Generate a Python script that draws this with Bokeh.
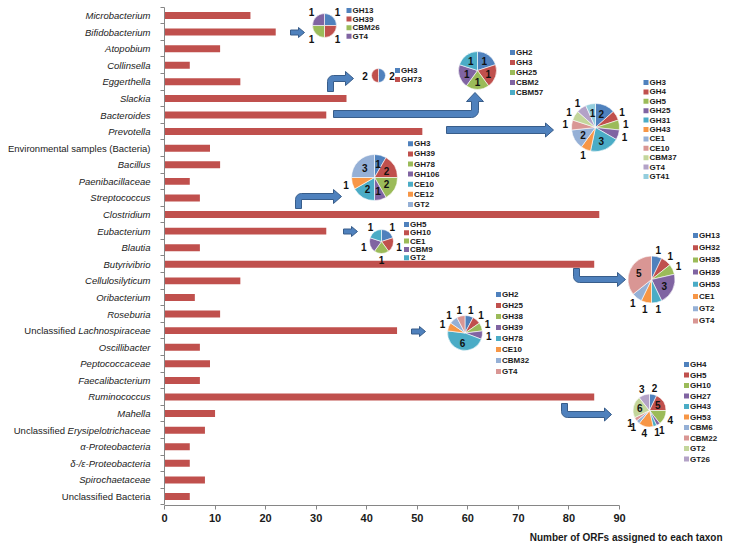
import math
from bokeh.plotting import figure
from bokeh.models import Range1d, FixedTicker, Title, ColumnDataSource
from bokeh.core.properties import value
from bokeh.embed import file_html
from bokeh.resources import INLINE

# ---------------- data ----------------
taxa = ["Microbacterium", "Bifidobacterium", "Atopobium", "Collinsella", "Eggerthella",
        "Slackia", "Bacteroides", "Prevotella", "Environmental samples (Bacteria)", "Bacillus",
        "Paenibacillaceae", "Streptococcus", "Clostridium", "Eubacterium", "Blautia",
        "Butyrivibrio", "Cellulosilyticum", "Oribacterium", "Roseburia",
        "Unclassified Lachnospiraceae", "Oscillibacter", "Peptococcaceae", "Faecalibacterium",
        "Ruminococcus", "Mahella", "Unclassified Erysipelotrichaceae", "α-Proteobacteria",
        "δ-/ε-Proteobacteria", "Spirochaetaceae", "Unclassified Bacteria"]
italic_part = ["Microbacterium", "Bifidobacterium", "Atopobium", "Collinsella", "Eggerthella",
               "Slackia", "Bacteroides", "Prevotella", "", "Bacillus",
               "Paenibacillaceae", "Streptococcus", "Clostridium", "Eubacterium", "Blautia",
               "Butyrivibrio", "Cellulosilyticum", "Oribacterium", "Roseburia",
               "Lachnospiraceae", "Oscillibacter", "Peptococcaceae", "Faecalibacterium",
               "Ruminococcus", "Mahella", "Erysipelotrichaceae", "α-Proteobacteria",
               "δ-/ε-Proteobacteria", "Spirochaetaceae", ""]
orfs = [17, 22, 11, 5, 15, 36, 32, 51, 9, 11, 5, 7, 86, 32, 7, 85, 15, 6, 11, 46,
        7, 9, 7, 85, 10, 8, 5, 5, 8, 5]
x_ticks = [0, 10, 20, 30, 40, 50, 60, 70, 80, 90]
x_title = "Number of ORFs assigned to each taxon"

bifido_cazy = ["GH13", "GH39", "CBM26", "GT4"]
bifido_n = [1, 1, 1, 1]
slackia_cazy = ["GH3", "GH73"]
slackia_n = [2, 2]
bactero_cazy = ["GH2", "GH3", "GH25", "CBM2", "CBM57"]
bactero_n = [1, 1, 1, 1, 1]
prevo_cazy = ["GH3", "GH4", "GH5", "GH25", "GH31", "GH43", "CE1", "CE10", "CBM37", "GT4", "GT41"]
prevo_n = [2, 1, 1, 1, 3, 1, 2, 1, 1, 1, 1]
strepto_cazy = ["GH3", "GH39", "GH78", "GH106", "CE10", "CE12", "GT2"]
strepto_n = [1, 2, 2, 1, 2, 1, 3]
eubac_cazy = ["GH5", "GH10", "CE1", "CBM9", "GT2"]
eubac_n = [1, 1, 1, 1, 1]
butyri_cazy = ["GH13", "GH32", "GH35", "GH39", "GH53", "CE1", "GT2", "GT4"]
butyri_n = [1, 1, 1, 3, 1, 1, 1, 5]
lachno_cazy = ["GH2", "GH25", "GH38", "GH39", "GH78", "CE10", "CBM32", "GT4"]
lachno_n = [1, 1, 1, 1, 6, 1, 1, 1]
rumino_cazy = ["GH4", "GH5", "GH10", "GH27", "GH43", "GH53", "CBM6", "CBM22", "GT2", "GT26"]
rumino_n = [2, 5, 4, 1, 1, 4, 1, 1, 6, 3]

palette = ["#4F81BD", "#C0504D", "#9BBB59", "#8064A2", "#4BACC6", "#F79646",
           "#95B0D6", "#D99694", "#C3D69B", "#B3A2C7", "#93CDDD"]

# ---------------- geometry (canvas pixels -> data) ----------------
N = len(taxa)
SX = 455.0 / 90.0          # px per ORF
SY = 16.586                # px per row
W, FRAME_H = 731, 505
FX0 = 164.0                # canvas x of ORF = 0
YTOP = N - 0.5 + 15.0 / SY  # data y at canvas top (first row centre at y=15)


def xd(px):
    return (px - FX0) / SX


def yd(py):
    return YTOP - py / SY


ypos = [N - 0.5 - i for i in range(N)]

p = figure(frame_width=W, frame_height=FRAME_H,
           min_border_left=0, min_border_right=0, min_border_top=0, min_border_bottom=47,
           x_range=Range1d(xd(0), xd(W)), y_range=Range1d(yd(FRAME_H), yd(0)),
           output_backend="svg", toolbar_location=None, title=None)
p.outline_line_color = None
p.grid.visible = False
p.background_fill_color = "white"
p.border_fill_color = "white"

AX = "#868686"
FONT = "Liberation Sans"
p.xaxis.ticker = FixedTicker(ticks=x_ticks)
p.xaxis.bounds = (0, 90)
p.xaxis.axis_line_color = AX
p.xaxis.major_tick_line_color = AX
p.xaxis.major_tick_out = 4
p.xaxis.major_tick_in = 0
p.xaxis.minor_tick_line_color = None
p.xaxis.major_label_text_font = FONT
p.xaxis.major_label_text_font_style = "bold"
p.xaxis.major_label_text_font_size = "11px"
p.xaxis.major_label_text_color = "#1a1a1a"
p.xaxis.major_label_standoff = 4

# category axis drawn at x = 0 inside the frame; only boundary ticks, no numeric labels
p.yaxis.fixed_location = 0
p.yaxis.ticker = FixedTicker(ticks=[], minor_ticks=list(range(0, N + 1)))
p.yaxis.bounds = (0, N - 0.5 + 8.0 / SY)
p.yaxis.axis_line_color = AX
p.yaxis.major_tick_line_color = None
p.yaxis.minor_tick_line_color = AX
p.yaxis.minor_tick_out = 4
p.yaxis.minor_tick_in = 0

# axis title, right-aligned under the value axis
p.add_layout(Title(text=x_title, align="right", offset=9, standoff=11, text_font=FONT,
                   text_font_style="bold", text_font_size="10px", text_color="#1a1a1a"),
             "below")

# bars
p.hbar(y=ypos, left=0, right=orfs, height=0.42, fill_color="#C0504D", line_color=None)

# category labels (mixed italic / roman)
AW = {"L": 556, "a": 556, "c": 500, "h": 556, "n": 556, "o": 556, "s": 500, "p": 556,
      "i": 222, "r": 333, "e": 556, "E": 667, "y": 500, "l": 222, "t": 278, " ": 278}
FS = 9.5
LAB_RIGHT = 150.0


def tw(s):
    return sum(AW.get(ch, 556) for ch in s) * FS / 1000.0


ital = dict(x=[], y=[], text=[])
norm = dict(x=[], y=[], text=[])
for i, name in enumerate(taxa):
    it = italic_part[i]
    if it:
        ital["x"].append(xd(LAB_RIGHT)); ital["y"].append(ypos[i]); ital["text"].append(it)
        pre = name[:len(name) - len(it)].strip()
        if pre:
            norm["x"].append(xd(LAB_RIGHT - tw(it) - tw(" "))); norm["y"].append(ypos[i])
            norm["text"].append(pre)
    else:
        norm["x"].append(xd(LAB_RIGHT)); norm["y"].append(ypos[i]); norm["text"].append(name)

for src, style in ((ital, "italic"), (norm, "normal")):
    p.text(x="x", y="y", text="text", source=ColumnDataSource(src), text_align="right",
           text_baseline="middle", text_font=value(FONT), text_font_style=style,
           text_font_size="9.5px", text_color="#222222")

# ---------------- arrows ----------------
ARROW_FILL, ARROW_LINE = "#4F81BD", "#385D8A"


def arc(cx, cy, r, a0, a1, n=8):
    return [(cx + r * math.cos(math.radians(a0 + (a1 - a0) * k / n)),
             cy + r * math.sin(math.radians(a0 + (a1 - a0) * k / n))) for k in range(n + 1)]


def straight(x0, x1, yc, sh, hh, hl):
    return [(x0, yc - sh), (x1 - hl, yc - sh), (x1 - hl, yc - hh), (x1, yc),
            (x1 - hl, yc + hh), (x1 - hl, yc + sh), (x0, yc + sh)]


def up_right(xs, y0, ya, xt, w, hh, hl):
    rad = w
    pts = [(xs, y0)]
    pts += arc(xs + rad, ya - w / 2 + rad, rad, 180, 270)
    pts += [(xt - hl, ya - w / 2), (xt - hl, ya - hh), (xt, ya), (xt - hl, ya + hh),
            (xt - hl, ya + w / 2), (xs + w, ya + w / 2), (xs + w, y0)]
    return pts


def down_right(xs, y0, ya, xt, w, hh, hl):
    rad = w
    pts = [(xs, y0)]
    pts += arc(xs + rad, ya + w / 2 - rad, rad, 180, 90)
    pts += [(xt - hl, ya + w / 2), (xt - hl, ya + hh), (xt, ya), (xt - hl, ya - hh),
            (xt - hl, ya - w / 2), (xs + w, ya - w / 2), (xs + w, y0)]
    return pts


def right_up(x0, yc, xs, yt, w, hh, hl):
    rad = w
    sx = xs + w / 2
    pts = [(x0, yc - w / 2), (xs, yc - w / 2), (xs, yt + hl), (sx - hh, yt + hl), (sx, yt),
           (sx + hh, yt + hl), (xs + w, yt + hl)]
    pts += arc(xs + w - rad, yc + w / 2 - rad, rad, 0, 90)
    pts += [(x0, yc + w / 2)]
    return pts


arrows = [
    straight(290, 304, 32, 2.5, 5, 6),
    up_right(327, 91, 78, 353, 6, 7, 8),
    right_up(333, 113.5, 471, 92, 7, 8.5, 9),
    straight(446, 553, 129.5, 3.5, 7, 8),
    up_right(295, 208, 196, 341, 6, 7, 8),
    straight(343, 357, 231, 2.5, 5, 6),
    down_right(573, 268, 279, 625, 6, 7, 8),
    straight(411, 425, 331, 2.5, 5, 6),
    down_right(561, 403, 414, 611, 6, 6.5, 7),
]
p.patches(xs=[[xd(a) for a, b in pts] for pts in arrows],
          ys=[[yd(b) for a, b in pts] for pts in arrows],
          fill_color=ARROW_FILL, line_color=ARROW_LINE, line_width=1)

# ---------------- pies ----------------
pies = [
    dict(cazy=bifido_cazy, n=bifido_n, cx=324, cy=25, r=12, lx=348.5, ly=10, ldy=8.6, inside=[]),
    dict(cazy=slackia_cazy, n=slackia_n, cx=378, cy=75, r=7, lx=397, ly=70, ldy=9, inside=[]),
    dict(cazy=bactero_cazy, n=bactero_n, cx=477, cy=70, r=19, lx=512, ly=52, ldy=10,
         inside=[0, 1, 2, 3, 4]),
    dict(cazy=prevo_cazy, n=prevo_n, cx=595, cy=127, r=24, lx=645.5, ly=82, ldy=9.4,
         inside=[0, 4, 6, 10]),
    dict(cazy=strepto_cazy, n=strepto_n, cx=374, cy=177, r=23, lx=410, ly=143.3, ldy=10.1,
         inside=[0, 1, 2, 3, 4, 6]),
    dict(cazy=eubac_cazy, n=eubac_n, cx=381, cy=241, r=12, lx=406, ly=224, ldy=8.3, inside=[]),
    dict(cazy=butyri_cazy, n=butyri_n, cx=651, cy=279, r=23.5, lx=695, ly=235, ldy=12.2,
         inside=[3, 7]),
    dict(cazy=lachno_cazy, n=lachno_n, cx=464.5, cy=332.5, r=17.5, lx=498, ly=294, ldy=11,
         inside=[4]),
    dict(cazy=rumino_cazy, n=rumino_n, cx=649, cy=410, r=16.5, lx=686, ly=364, ldy=10.5,
         inside=[1, 8]),
]

wed = dict(x=[], y=[], r=[], sa=[], ea=[], c=[])
lab = dict(x=[], y=[], t=[])
leg_sq = dict(x=[], y=[], c=[])
leg_tx = dict(x=[], y=[], t=[])
for pie in pies:
    tot = float(sum(pie["n"]))
    cum = 0.0
    for k, (name, v) in enumerate(zip(pie["cazy"], pie["n"])):
        t1 = cum / tot * 2 * math.pi
        t2 = (cum + v) / tot * 2 * math.pi
        cum += v
        wed["x"].append(xd(pie["cx"])); wed["y"].append(yd(pie["cy"])); wed["r"].append(pie["r"])
        wed["sa"].append(math.pi / 2 - t2); wed["ea"].append(math.pi / 2 - t1)
        wed["c"].append(palette[k])
        mid = (t1 + t2) / 2
        d = 0.6 * pie["r"] if k in pie["inside"] else pie["r"] + 6.5
        lab["x"].append(xd(pie["cx"] + d * math.sin(mid)))
        lab["y"].append(yd(pie["cy"] - d * math.cos(mid)))
        lab["t"].append(str(v))
        leg_sq["x"].append(xd(pie["lx"])); leg_sq["y"].append(yd(pie["ly"] + k * pie["ldy"]))
        leg_sq["c"].append(palette[k])
        leg_tx["x"].append(xd(pie["lx"] + 3.5)); leg_tx["y"].append(yd(pie["ly"] + k * pie["ldy"]))
        leg_tx["t"].append(name)

p.wedge(x="x", y="y", radius="r", radius_units="screen", start_angle="sa", end_angle="ea",
        fill_color="c", line_color="white", line_width=0.6, source=ColumnDataSource(wed))
p.text(x="x", y="y", text="t", source=ColumnDataSource(lab), text_align="center",
       text_baseline="middle", text_font=value(FONT), text_font_style="bold",
       text_font_size="10px", text_color="#111111")
p.scatter(x="x", y="y", marker="square", size=5, fill_color="c", line_color=None,
          source=ColumnDataSource(leg_sq))
p.text(x="x", y="y", text="t", source=ColumnDataSource(leg_tx), text_align="left",
       text_baseline="middle", text_font=value(FONT), text_font_style="bold",
       text_font_size="8px", text_color="#1a1a1a")

open("out.html", "w").write(file_html(p, INLINE))
